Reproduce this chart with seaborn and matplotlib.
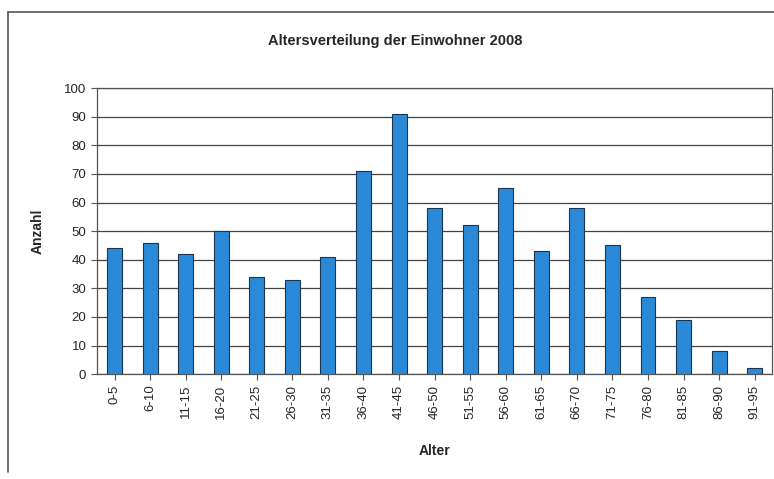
import matplotlib
matplotlib.use("Agg")
import matplotlib.pyplot as plt
import pandas as pd
import seaborn as sns

# Daten
altersgruppen = ['0-5', '6-10', '11-15', '16-20', '21-25', '26-30', '31-35',
                 '36-40', '41-45', '46-50', '51-55', '56-60', '61-65', '66-70',
                 '71-75', '76-80', '81-85', '86-90', '91-95']
anzahl = [44, 46, 42, 50, 34, 33, 41, 71, 91, 58, 52, 65, 43, 58, 45, 27, 19, 8, 2]

df = pd.DataFrame({'Alter': altersgruppen, 'Anzahl': anzahl})

sns.set_style("white")
plt.rcParams['font.family'] = ['Liberation Sans', 'DejaVu Sans']

fig = plt.figure(figsize=(7.74, 4.79), dpi=100)
ax = fig.add_axes([0.125, 0.219, 0.873, 0.597])

sns.barplot(data=df, x='Alter', y='Anzahl', color='#2a8ad8', width=0.42,
            edgecolor='#1a3550', linewidth=0.8, saturation=1, ax=ax, zorder=3)

ax.set_ylim(0, 100)
ax.set_yticks(range(0, 101, 10))
ax.set_xlim(-0.5, len(altersgruppen) - 0.5)
ax.yaxis.grid(True, color='#444444', linewidth=0.9, zorder=0)
ax.set_axisbelow(True)
for s in ax.spines.values():
    s.set_color('#555555')
    s.set_linewidth(0.9)

ax.tick_params(axis='x', rotation=90, labelsize=9.5, length=4, direction='out', bottom=True, color='#555555')
ax.tick_params(axis='y', labelsize=9.5, length=4, direction='out', left=True, color='#555555')
ax.set_xlabel('Alter', fontsize=10, fontweight='bold', labelpad=18)
ax.set_ylabel('Anzahl', fontsize=10, fontweight='bold', labelpad=14)

fig.text(0.51, 0.915, 'Altersverteilung der Einwohner 2008', ha='center',
         va='center', fontsize=10.5, fontweight='bold')

# Rahmen des Diagrammbereichs
fig.add_artist(plt.Line2D([0.01, 1.0], [0.975, 0.975], color='#555555', linewidth=1.2))
fig.add_artist(plt.Line2D([0.01, 0.01], [0.975, 0.015], color='#555555', linewidth=1.2))

plt.savefig('out.png', dpi=100)
plt.close()
